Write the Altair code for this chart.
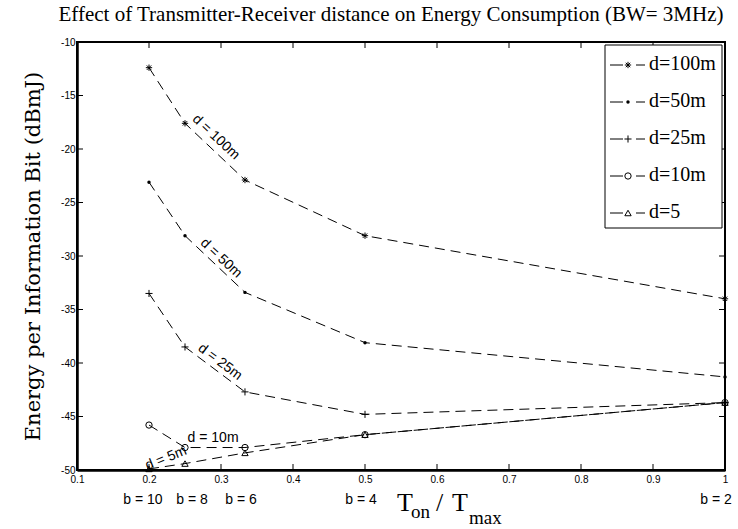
import altair as alt
import pandas as pd

# ---------------- data ----------------
ton = [0.2, 0.25, 0.3333, 0.5, 1.0]
series_names = ["d=100m", "d=50m", "d=25m", "d=10m", "d=5"]
e_100 = [-12.4, -17.6, -22.9, -28.1, -34.0]
e_50 = [-23.1, -28.1, -33.4, -38.1, -41.3]
e_25 = [-33.5, -38.5, -42.7, -44.8, -43.7]
e_10 = [-45.8, -47.9, -47.9, -46.7, -43.7]
e_5 = [-49.9, -49.4, -48.4, -46.7, -43.7]
x_ticks = [0.1, 0.2, 0.3, 0.4, 0.5, 0.6, 0.7, 0.8, 0.9, 1]
y_ticks = [-10, -15, -20, -25, -30, -35, -40, -45, -50]
b_labels = ["b = 10", "b = 8", "b = 6", "b = 4", "b = 2"]
curve_labels = ["d = 100m", "d = 50m", "d = 25m", "d = 10m", "d = 5m"]
title_text = "Effect of Transmitter-Receiver distance on Energy Consumption (BW= 3MHz)"
y_title = "Energy per Information Bit (dBmJ)"

all_series = [e_100, e_50, e_25, e_10, e_5]
rows = []
for name, vals in zip(series_names, all_series):
    for t, v in zip(ton, vals):
        rows.append({"series": name, "ton": t, "e": v})
df = pd.DataFrame(rows)

# ---------------- layout / style ----------------
W, H = 648, 428
SANS = "Liberation Sans"
SERIF = "Liberation Serif"
SERIF2 = "DejaVu Serif"
DASH = [10, 6]

ASTER = "M-1,0L1,0M0,-1L0,1M-0.7,-0.7L0.7,0.7M-0.7,0.7L0.7,-0.7"
PLUS = "M-1,0L1,0M0,-1L0,1"
marker_styles = [
    dict(shape=ASTER, filled=False, size=40),
    dict(shape="circle", filled=True, size=12),
    dict(shape=PLUS, filled=False, size=50),
    dict(shape="circle", filled=False, size=40),
    dict(shape="triangle-up", filled=False, size=40),
]

anno_pos = [(0.293, -18.9, 43), (0.300, -30.2, 43), (0.2986, -39.9, 37),
            (0.289, -47.0, 0), (0.2236, -48.9, 338)]
b_dx = [-6, 7, -4, -4, -9]

xs = alt.Scale(domain=[0.1, 1.0], nice=False, zero=False)
ys = alt.Scale(domain=[-50, -10], nice=False, zero=False)

one = alt.Data(values=[{"k": 0}])

x_axis = alt.Axis(values=x_ticks, labelExpr="'' + datum.value", ticks=False, grid=False,
                  domainColor="black", domainWidth=2.5, labelFont=SANS, labelFontSize=10,
                  labelColor="black", labelPadding=4, labelFlush=False, labelOverlap=False,
                  title=None)
y_axis = alt.Axis(values=y_ticks, labelExpr="'' + datum.value", ticks=False, grid=False,
                  domainColor="black", domainWidth=2.5, labelFont=SANS, labelFontSize=10,
                  labelColor="black", labelPadding=2, labelFlush=False, labelOverlap=False,
                  title=y_title, titleFont=SERIF2, titleFontSize=21, titleFontWeight="normal",
                  titleColor="black", titlePadding=17)


def X(field=None, datum=None):
    if datum is not None:
        return alt.X(datum=datum, type="quantitative", scale=xs, axis=x_axis)
    return alt.X(field, type="quantitative", scale=xs, axis=x_axis)


def Y(field=None, datum=None):
    if datum is not None:
        return alt.Y(datum=datum, type="quantitative", scale=ys, axis=y_axis)
    return alt.Y(field, type="quantitative", scale=ys, axis=y_axis)


layers = []

lines = alt.Chart(df).mark_line(color="black", strokeWidth=1, strokeDash=DASH).encode(
    x=X("ton"), y=Y("e"), detail="series:N",
)
layers.append(lines)

for name, st in zip(series_names, marker_styles):
    pts = alt.Chart(df).transform_filter(alt.datum.series == name).mark_point(
        color="black", strokeWidth=1, opacity=1, **st
    ).encode(x=X("ton"), y=Y("e"))
    layers.append(pts)

# inward ticks on all four sides
xt = pd.DataFrame({"ton": x_ticks})
yt = pd.DataFrame({"e": y_ticks})
for y0, y1 in [(H, H - 6), (0, 6)]:
    layers.append(alt.Chart(xt).mark_rule(color="black", strokeWidth=1).encode(
        x=X("ton"), y=alt.value(y0), y2=alt.value(y1)))
for x0, x1 in [(0, 6), (W, W - 6)]:
    layers.append(alt.Chart(yt).mark_rule(color="black", strokeWidth=1).encode(
        y=Y("e"), x=alt.value(x0), x2=alt.value(x1)))

# curve annotations
for lab, (ax, ay, ang) in zip(curve_labels, anno_pos):
    layers.append(alt.Chart(one).mark_text(text=lab, font=SANS, fontSize=14, angle=ang,
                                           color="black", align="center", baseline="middle").encode(
        x=X(datum=ax), y=Y(datum=ay)))

# b = N labels below axis
for lab, t, dx in zip(b_labels, ton, b_dx):
    layers.append(alt.Chart(one).mark_text(text=lab, font=SANS, fontSize=14, dx=dx,
                                           color="black", align="center", baseline="middle").encode(
        x=X(datum=t), y=alt.value(H + 30)))

# x title  T_on / T_max
xt_parts = [("T", 320, 469, 26), ("on", 334, 476, 19), ("/", 359, 469, 26),
            ("T", 375, 469, 26), ("max", 392, 482, 19)]
for txt, px, py, fs in xt_parts:
    layers.append(alt.Chart(one).mark_text(text=txt, font=SERIF, fontSize=fs, color="black",
                                           align="left", baseline="alphabetic").encode(
        x=alt.value(px), y=alt.value(py)))

# legend
layers.append(alt.Chart(one).mark_rect(fill="white", stroke="black", strokeWidth=1).encode(
    x=alt.value(528), x2=alt.value(645), y=alt.value(3), y2=alt.value(186)))
for i, (name, st) in enumerate(zip(series_names, marker_styles)):
    ly = 23 + 37 * i
    layers.append(alt.Chart(one).mark_rule(color="black", strokeWidth=1).encode(
        x=alt.value(533), x2=alt.value(546), y=alt.value(ly)))
    layers.append(alt.Chart(one).mark_rule(color="black", strokeWidth=1).encode(
        x=alt.value(559), x2=alt.value(568), y=alt.value(ly)))
    layers.append(alt.Chart(one).mark_point(color="black", strokeWidth=1, opacity=1, **st).encode(
        x=alt.value(551), y=alt.value(ly)))
    layers.append(alt.Chart(one).mark_text(text=name, font=SERIF, fontSize=20, color="black",
                                           align="left", baseline="middle").encode(
        x=alt.value(572), y=alt.value(ly - 1)))

chart = alt.layer(*layers).properties(
    width=W, height=H,
    autosize=alt.AutoSizeParams(type="none"),
    padding={"left": 77, "top": 42, "right": 13, "bottom": 59},
    title=alt.TitleParams(text=title_text, font=SERIF, fontSize=21, fontWeight="normal",
                          color="black", anchor="middle", offset=12, dx=-10),
).configure_view(stroke="black", strokeWidth=2)

chart.save("out.html", embed_options={"renderer": "svg", "actions": False})
